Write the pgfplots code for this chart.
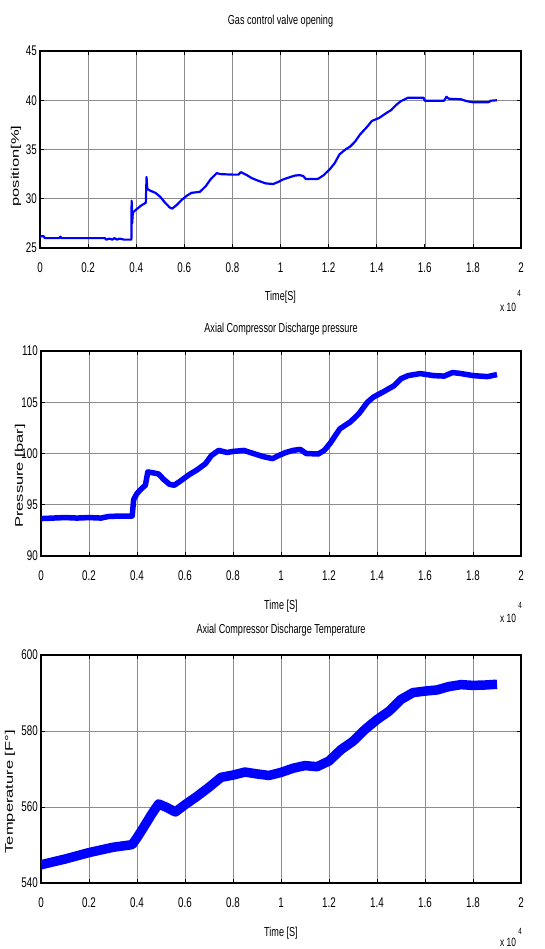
\documentclass[border=0pt]{standalone}
\usepackage{pgfplots}
\pgfplotsset{compat=1.18}
\usepackage{fontspec}
\setmainfont{Liberation Sans}[FakeStretch=0.7]
\newfontfamily\ylabfont{Liberation Sans}[FakeStretch=1.5]
\definecolor{mblue}{RGB}{0,0,255}
\newcommand{\tickfont}{\fontsize{14}{14}\selectfont}
\newcommand{\titfont}{\fontsize{13}{13}\selectfont}
\newcommand{\ylfont}{\ylabfont\fontsize{11}{11}\selectfont}
\pgfplotsset{
  mstyle/.style={
    scale only axis,
    xmin=0, xmax=2,
    xtick={0,0.2,0.4,0.6,0.8,1,1.2,1.4,1.6,1.8,2},
    xticklabels={0,0.2,0.4,0.6,0.8,1,1.2,1.4,1.6,1.8,2},
    grid=major,
    major grid style={line width=0.6pt, black!45},
    axis line style={line width=1.3pt, black},
    tick align=inside,
    major tick length=4pt,
    every tick/.style={black, line width=0.8pt},
    xticklabel style={font=\tickfont, anchor=center, yshift=-20pt, inner sep=0pt},
    yticklabel style={font=\tickfont, anchor=east, xshift=-3pt, inner sep=0pt},
    title style={font=\titfont, anchor=center},
    xlabel style={font=\titfont, anchor=center},
    ylabel style={font=\ylfont, anchor=center},
    clip=true,
  }
}
\begin{document}
\begin{tikzpicture}
\path[use as bounding box] (0,0) rectangle (544pt,949pt);
% ---------- Plot 1 ----------
\begin{axis}[mstyle,
  at={(40pt,701pt)}, anchor=south west,
  width=481pt, height=197pt,
  ymin=25, ymax=45,
  ytick={25,30,35,40,45}, yticklabels={25,30,35,40,45},
  title={Gas control valve opening},
  title style={at={(axis description cs:0.5,1)}, yshift=24pt},
  xlabel={Time[S]},
  xlabel style={at={(axis description cs:0.5,0)}, yshift=-49pt},
  ylabel={position[\%]},
  ylabel style={at={([xshift=-24pt]axis description cs:0,0.416)}},
]
\addplot[mblue, line width=2.2pt, line join=round] coordinates {
(0,26.2) (0.015,26.2) (0.02,26.0) (0.08,26.0) (0.085,26.15) (0.09,26.0)
(0.27,26.0) (0.275,25.85) (0.29,25.95) (0.30,25.85) (0.31,26.0) (0.32,25.85)
(0.33,25.95) (0.35,25.85) (0.38,25.85) (0.381,29.8) (0.383,27.5) (0.386,28.6)
(0.40,28.9) (0.42,29.3) (0.44,29.6) (0.443,32.2) (0.446,31.0) (0.46,30.8)
(0.48,30.6) (0.50,30.2) (0.52,29.6) (0.54,29.1) (0.55,29.0) (0.57,29.4)
(0.59,29.9) (0.61,30.3) (0.63,30.6) (0.665,30.7) (0.69,31.3) (0.71,32.0)
(0.735,32.6) (0.75,32.5) (0.80,32.45) (0.825,32.45) (0.835,32.7) (0.86,32.4)
(0.88,32.1) (0.91,31.8) (0.94,31.55) (0.97,31.5) (0.99,31.7) (1.01,31.95)
(1.04,32.2) (1.06,32.35) (1.08,32.4) (1.095,32.3) (1.105,32.0) (1.155,32.0)
(1.18,32.4) (1.205,33.0) (1.225,33.6) (1.245,34.5) (1.27,35.0) (1.29,35.3)
(1.31,35.8) (1.33,36.5) (1.36,37.3) (1.38,37.9) (1.41,38.2) (1.44,38.7)
(1.46,39.0) (1.48,39.5) (1.50,39.9) (1.53,40.25) (1.595,40.25) (1.60,39.95)
(1.68,39.95) (1.69,40.35) (1.70,40.15) (1.75,40.1) (1.775,39.9) (1.80,39.8)
(1.865,39.8) (1.875,39.95) (1.90,40.0)
};
\end{axis}
\node[font=\fontsize{12}{12}\selectfont, anchor=center] at (508pt,642pt) {x 10};
\node[font=\fontsize{9}{9}\selectfont, anchor=center] at (519pt,656pt) {4};
% ---------- Plot 2 ----------
\begin{axis}[mstyle,
  at={(41pt,393pt)}, anchor=south west,
  width=480pt, height=205pt,
  ymin=90, ymax=110,
  ytick={90,95,100,105,110}, yticklabels={90,95,100,105,110},
  title={Axial Compressor Discharge pressure},
  title style={at={(axis description cs:0.5,1)}, yshift=16pt},
  xlabel={Time [S]},
  xlabel style={at={(axis description cs:0.5,0)}, yshift=-50pt},
  ylabel={Pressure [bar]},
  ylabel style={at={([xshift=-21pt]axis description cs:0,0.39)}},
]
\addplot[mblue, line width=5.5pt, line join=round] coordinates {
(0,93.65) (0.05,93.7) (0.10,93.75) (0.15,93.7) (0.20,93.75) (0.25,93.7)
(0.28,93.85) (0.33,93.9) (0.38,93.9) (0.386,95.5) (0.40,96.1) (0.42,96.6)
(0.435,96.9) (0.445,98.2) (0.47,98.1) (0.49,98.0) (0.51,97.5) (0.535,97.0)
(0.555,96.9) (0.58,97.3) (0.615,97.9) (0.65,98.4) (0.685,99.0) (0.71,99.8)
(0.74,100.3) (0.775,100.1) (0.80,100.2) (0.845,100.3) (0.885,100.0) (0.925,99.7)
(0.965,99.5) (0.99,99.8) (1.02,100.1) (1.05,100.3) (1.08,100.4) (1.105,100.0)
(1.155,99.95) (1.18,100.3) (1.205,101.0) (1.245,102.4) (1.29,103.1) (1.325,103.9)
(1.36,105.0) (1.385,105.5) (1.425,106.0) (1.47,106.6) (1.50,107.3) (1.53,107.6)
(1.58,107.8) (1.635,107.6) (1.68,107.55) (1.715,107.9) (1.75,107.8) (1.80,107.6)
(1.86,107.5) (1.90,107.7)
};
\end{axis}
\node[font=\fontsize{12}{12}\selectfont, anchor=center] at (508pt,331pt) {x 10};
\node[font=\fontsize{9}{9}\selectfont, anchor=center] at (520pt,344pt) {4};
% ---------- Plot 3 ----------
\begin{axis}[mstyle,
  at={(41pt,66pt)}, anchor=south west,
  width=480pt, height=228pt,
  ymin=540, ymax=600,
  ytick={540,560,580,600}, yticklabels={540,560,580,600},
  title={Axial Compressor Discharge Temperature},
  title style={at={(axis description cs:0.5,1)}, yshift=19pt},
  xlabel={Time [S]},
  xlabel style={at={(axis description cs:0.5,0)}, yshift=-50pt},
  ylabel={Temperature [F\textdegree]},
  ylabel style={at={([xshift=-31pt]axis description cs:0,0.40)}},
]
\addplot[mblue, line width=9.5pt, line join=round] coordinates {
(0,544.8) (0.1,546.3) (0.2,548.0) (0.3,549.4) (0.38,550.1) (0.40,551.9)
(0.43,554.9) (0.46,558.0) (0.49,560.8) (0.52,560.0) (0.56,558.7) (0.6,560.6)
(0.65,562.8) (0.7,565.2) (0.75,567.8) (0.8,568.4) (0.85,569.2) (0.9,568.7)
(0.95,568.3) (1.0,569.1) (1.05,570.2) (1.1,570.9) (1.15,570.6) (1.2,572.1)
(1.25,575.1) (1.3,577.3) (1.35,580.4) (1.4,583.0) (1.45,585.2) (1.5,588.3)
(1.55,590.1) (1.6,590.5) (1.65,590.8) (1.7,591.7) (1.75,592.2) (1.8,592.0)
(1.85,592.1) (1.9,592.3)
};
\end{axis}
\node[font=\fontsize{12}{12}\selectfont, anchor=center] at (508pt,7pt) {x 10};
\node[font=\fontsize{9}{9}\selectfont, anchor=center] at (520pt,18pt) {4};
\end{tikzpicture}
\end{document}
